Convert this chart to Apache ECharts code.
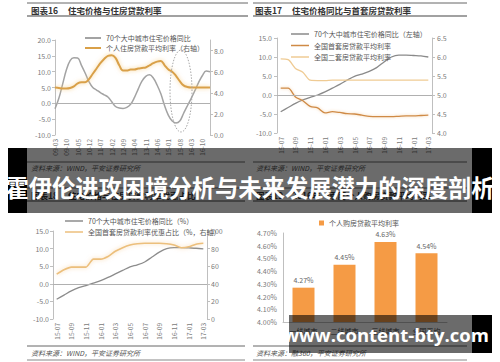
<!DOCTYPE html>
<html><head><meta charset="utf-8">
<script src="https://cdn.jsdelivr.net/npm/echarts@6/dist/echarts.min.js"></script>
<style>html,body{margin:0;padding:0;background:#fff}#c{width:500px;height:362px}</style>
</head><body><div id="c"></div>
<script>
// ---- Panel 1: 住宅价格与住房贷款利率 ----
const p1Ticks = ['09-03','09-10','10-05','10-12','11-07','12-02','12-09','13-04','13-11','14-06','15-01','15-08','16-03','16-10'];
const p1Price = [-1.7,1.5,6,10.5,13.5,14.4,14.3,12,9.5,6.8,5,4.2,3.4,2.7,2,0.5,-1,-1.5,-1.6,-1.3,-0.3,1.8,4.5,7,8.5,9,8,5.8,3,-0.8,-3.8,-5.6,-6.2,-5.6,-3.2,-0.8,1.5,4,6.6,8.8,10.2,10];
const p1Rate = [4.5,4.45,4.4,4.4,4.45,4.6,4.9,5.0,5.0,5.3,5.8,6.3,6.8,7.2,7.5,7.55,7.3,6.6,6.1,6.1,6.2,6.2,6.3,6.35,6.4,6.6,6.8,6.95,7.0,6.6,6.2,6.0,5.6,5.1,4.7,4.55,4.5,4.5,4.5,4.5,4.5,4.5];
// ---- Panels 2 & 3 share months ----
const months = ['15-07','15-08','15-09','15-10','15-11','15-12','16-01','16-02','16-03','16-04','16-05','16-06','16-07','16-08','16-09','16-10','16-11','16-12','17-01','17-02','17-03'];
const p2Price = [-4.4,-3.3,-2.2,-1.3,-0.6,0,0.8,1.8,2.8,3.9,4.9,5.5,6.2,7.2,8.7,10.0,10.5,10.5,10.4,10.3,10.0];
const p2First = [5.18,5.18,4.95,4.85,4.7,4.66,4.53,4.56,4.54,4.51,4.5,4.47,4.44,4.43,4.43,4.43,4.44,4.45,4.45,4.46,4.47];
const p2Second = [5.95,5.93,5.7,5.6,5.39,5.38,5.38,5.39,5.39,5.39,5.39,5.39,5.39,5.39,5.39,5.39,5.39,5.39,5.39,5.39,5.39];
const p3Price = [-4.4,-3.2,-2.0,-1.1,-0.5,0.2,0.9,1.8,2.8,3.8,4.8,5.4,6.2,7.6,9.0,10.0,10.3,10.3,10.2,10.1,9.9];
const p3Share = [51,56,59,59,59,68,68,71,77,81,84,85.5,86,86,86,85.5,84,81,82,85,86];
// ---- Panel 4 ----
const p4Cats = ['一线城市','二线城市','三线城市','全国平均'];
const p4Rates = [4.27,4.45,4.63,4.54];

const p1Cats = p1Price.map((_, i) => i % 3 === 0 && p1Ticks[i / 3] ? p1Ticks[i / 3] : ('m' + i));

const FONT = '"Noto Sans CJK SC", "Noto Sans", sans-serif';
const axisGray = '#bfbfbf';
const lblColor = '#7a7a7a';

function yAx(gi, opt) {
  return Object.assign({
    type: 'value', gridIndex: gi, splitLine: {show: false},
    axisLine: {show: true, lineStyle: {color: axisGray}},
    axisTick: {show: true, length: 3, lineStyle: {color: axisGray}},
    axisLabel: {fontSize: 7, color: lblColor, fontFamily: FONT, margin: 4}
  }, opt);
}
function xAx(gi, data, interval, bg) {
  return {
    type: 'category', gridIndex: gi, data: data, boundaryGap: bg,
    axisLine: {show: false, onZero: false}, axisTick: {show: false},
    axisLabel: {interval: interval, rotate: 90, fontSize: 6.5, color: lblColor, fontFamily: FONT, margin: 4}
  };
}
const zeroLine = {silent: true, symbol: 'none', label: {show: false},
  lineStyle: {color: '#b0b0b0', type: 'solid', width: 1}, data: [{yAxis: 0}]};

const chart = echarts.init(document.getElementById('c'), null, {renderer: 'svg'});

const titleStyle = {fill: '#333', fontSize: 8.5, fontWeight: 'bold', fontFamily: FONT};
const srcStyle = {fill: '#555', fontSize: 7, fontStyle: 'italic', fontFamily: FONT};
function hline(x1, x2, y, w, c) {
  return {type: 'line', shape: {x1: x1, y1: y, x2: x2, y2: y}, style: {stroke: c || '#555', lineWidth: w || 1}, z: 10};
}
function txt(x, y, t, st, extra) {
  return Object.assign({type: 'text', x: x, y: y, style: Object.assign({text: t, textVerticalAlign: 'middle'}, st), z: 10}, extra || {});
}

const graphics = [
  // Panel frames / titles
  hline(27, 248, 3, 1, '#666'), txt(31, 10, '图表16', titleStyle), txt(68, 10, '住宅价格与住房贷款利率', titleStyle), hline(27, 248, 16, 1.2, '#444'),
  hline(253, 467, 3, 1, '#666'), txt(255, 10, '图表17', titleStyle), txt(292, 10, '住宅价格同比与首套房贷款利率', titleStyle), hline(253, 467, 16, 1.2, '#444'),
  hline(27, 245, 162, 1, '#666'), txt(31, 168, '资料来源：WIND，平安证券研究所', srcStyle),
  hline(253, 467, 162, 1, '#666'), txt(256, 168, '资料来源：WIND，平安证券研究所', srcStyle),
  hline(27, 245, 188, 1, '#666'), txt(31, 195, '图表18', titleStyle), txt(68, 195, '住宅价格与住房贷款利率优惠占比', titleStyle), hline(27, 245, 201, 1.2, '#444'),
  hline(253, 467, 188, 1, '#666'), txt(256, 195, '图表19', titleStyle), txt(292, 195, '2016年一季度个人购房贷款平均利率', titleStyle), hline(253, 467, 201, 1.2, '#444'),
  hline(27, 245, 346, 1, '#666'), txt(31, 353, '资料来源：WIND，平安证券研究所', srcStyle), hline(27, 245, 360, 1.2, '#888'),
  hline(253, 467, 346, 1, '#666'), txt(256, 353, '资料来源：融360，平安证券研究所', srcStyle), hline(253, 467, 360, 1.2, '#888'),
  // dotted ellipse annotation
  {type: 'ellipse', shape: {cx: 181, cy: 91, rx: 11, ry: 41}, style: {fill: 'none', stroke: '#a8a8a8', lineWidth: 1, lineDash: [1.5, 1.5]}, z: 10},
  // Banner overlay
  {type: 'rect', shape: {x: 8, y: 148, width: 19, height: 65}, style: {fill: '#000'}, z: 100},
  {type: 'rect', shape: {x: 27, y: 148, width: 445, height: 65}, style: {fill: 'rgba(0,0,0,0.58)'}, z: 100},
  {type: 'rect', shape: {x: 472, y: 148, width: 20, height: 65}, style: {fill: '#000'}, z: 100},
  {type: 'text', x: 250, y: 187, z: 101, style: {text: '霍伊伦进攻困境分析与未来发展潜力的深度剖析', fill: '#fff', fontSize: 23.3, fontWeight: 'bold', fontFamily: FONT, textAlign: 'center', textVerticalAlign: 'middle'}},
  // Watermark
  {type: 'rect', shape: {x: 289, y: 315, width: 183, height: 38}, style: {fill: 'rgba(0,0,0,0.58)'}, z: 100},
  {type: 'rect', shape: {x: 472, y: 315, width: 20, height: 38}, style: {fill: '#000'}, z: 100},
  {type: 'text', x: 386, y: 334, z: 101, style: {text: 'www.content-bty.com', fill: '#fff', fontSize: 18.5, fontWeight: 'bold', fontFamily: '"Open Sans", "Noto Sans", sans-serif', textAlign: 'center', textVerticalAlign: 'middle'}}
];

const legText = {fontSize: 7, color: '#555', fontFamily: FONT, lineHeight: 10};

chart.setOption({
  animation: false,
  backgroundColor: '#fff',
  grid: [
    {left: 55, top: 40, width: 155, height: 95},
    {left: 277, top: 38, width: 155, height: 95},
    {left: 53, top: 231, width: 154, height: 88},
    {left: 283, top: 233, width: 164, height: 89}
  ],
  xAxis: [
    xAx(0, p1Cats, 2, false),
    xAx(1, months, 1, true),
    xAx(2, months, 1, true),
    {type: 'category', gridIndex: 3, data: p4Cats, boundaryGap: true,
     axisLine: {show: true, lineStyle: {color: axisGray}}, axisTick: {show: false},
     axisLabel: {fontSize: 7, color: '#444', fontFamily: FONT, margin: 5}}
  ],
  yAxis: [
    yAx(0, {min: -10, max: 20, interval: 5, axisLabel: {fontSize: 7, color: lblColor, fontFamily: FONT, margin: 4, formatter: v => v.toFixed(1)}}),
    yAx(0, {min: 0, max: 9, position: 'right',
      axisTick: {show: true, length: 3, lineStyle: {color: axisGray}, customValues: [0, 2, 4, 6, 8]},
      axisLabel: {fontSize: 7, color: lblColor, fontFamily: FONT, margin: 4, customValues: [0, 2, 4, 6, 8], formatter: v => v.toFixed(1)}}),
    yAx(1, {min: -10, max: 15, interval: 5, axisLabel: {fontSize: 7, color: lblColor, fontFamily: FONT, margin: 5, formatter: v => v.toFixed(1)}}),
    yAx(1, {min: 4.0, max: 6.5, interval: 0.5, position: 'right', axisLabel: {fontSize: 7, color: lblColor, fontFamily: FONT, margin: 5, formatter: v => v.toFixed(1)}}),
    yAx(2, {min: -10, max: 15, interval: 5, axisLabel: {fontSize: 7, color: lblColor, fontFamily: FONT, margin: 4, formatter: v => v.toFixed(1)}}),
    yAx(2, {min: 0, max: 100, interval: 20, position: 'right', axisLabel: {fontSize: 7, color: lblColor, fontFamily: FONT, margin: 4}}),
    yAx(3, {min: 4.0, max: 4.7, interval: 0.1, axisTick: {show: false}, axisLabel: {fontSize: 7, color: lblColor, fontFamily: FONT, margin: 6, formatter: v => v.toFixed(2) + '%'}})
  ],
  legend: [
    {data: ['70个大中城市住宅价格同比', '个人住房贷款平均利率（右轴）'], orient: 'vertical', left: 80, top: 28, itemGap: 0, itemWidth: 16, itemHeight: 2, icon: 'rect', textStyle: legText},
    {data: ['70个大中城市住宅价格同比（左轴）', '全国首套房贷款平均利率', '全国二套房贷款平均利率'], orient: 'vertical', left: 286, top: 24, itemGap: 1.5, itemWidth: 18, itemHeight: 1.5, icon: 'rect', textStyle: legText},
    {data: ['70个大中城市住宅价格同比（%）', '全国首套房贷款利率优惠占比（%，右轴）'], orient: 'vertical', left: 60, top: 211, itemGap: 1, itemWidth: 18, itemHeight: 1.5, icon: 'rect', textStyle: legText},
    {data: ['个人购房贷款平均利率'], left: 314, top: 213, itemWidth: 5, itemHeight: 5, icon: 'rect', textStyle: legText}
  ],
  series: [
    {name: '70个大中城市住宅价格同比', type: 'line', xAxisIndex: 0, yAxisIndex: 0, data: p1Price, smooth: 0.4, symbol: 'none',
     lineStyle: {color: '#a3a3a3', width: 1.5}, itemStyle: {color: '#a3a3a3'}, markLine: zeroLine},
    {name: '个人住房贷款平均利率（右轴）', type: 'line', xAxisIndex: 0, yAxisIndex: 1, data: p1Rate, smooth: 0.4, symbol: 'none',
     lineStyle: {color: '#d9a048', width: 2, shadowBlur: 4, shadowColor: 'rgba(245,200,120,0.8)'}, itemStyle: {color: '#d9a048'}},
    {name: '70个大中城市住宅价格同比（左轴）', type: 'line', xAxisIndex: 1, yAxisIndex: 2, data: p2Price, smooth: 0.3, symbol: 'none',
     lineStyle: {color: '#8a8a8a', width: 1.3}, itemStyle: {color: '#8a8a8a'}, markLine: zeroLine},
    {name: '全国首套房贷款平均利率', type: 'line', xAxisIndex: 1, yAxisIndex: 3, data: p2First, smooth: 0.3, symbol: 'none',
     lineStyle: {color: '#cf8a45', width: 1.3, shadowBlur: 3, shadowColor: 'rgba(240,190,130,0.7)'}, itemStyle: {color: '#cf8a45'}},
    {name: '全国二套房贷款平均利率', type: 'line', xAxisIndex: 1, yAxisIndex: 3, data: p2Second, smooth: 0.3, symbol: 'none',
     lineStyle: {color: '#efcb94', width: 1.3}, itemStyle: {color: '#efcb94'}},
    {name: '70个大中城市住宅价格同比（%）', type: 'line', xAxisIndex: 2, yAxisIndex: 4, data: p3Price, smooth: 0.3, symbol: 'none',
     lineStyle: {color: '#8c8c8c', width: 1.3}, itemStyle: {color: '#8c8c8c'}, markLine: zeroLine},
    {name: '全国首套房贷款利率优惠占比（%，右轴）', type: 'line', xAxisIndex: 2, yAxisIndex: 5, data: p3Share, smooth: 0.2, symbol: 'none',
     lineStyle: {color: '#ecbf7c', width: 1.6, shadowBlur: 4, shadowColor: 'rgba(245,205,150,0.8)'}, itemStyle: {color: '#ecbf7c'}},
    {name: '个人购房贷款平均利率', type: 'bar', xAxisIndex: 3, yAxisIndex: 6, data: p4Rates, barWidth: 22,
     itemStyle: {color: '#f59b45'},
     label: {show: true, position: 'top', distance: 4, fontSize: 7, color: '#666', fontFamily: FONT, formatter: p => p.value.toFixed(2) + '%'}}
  ],
  graphic: graphics
});
</script></body></html>
